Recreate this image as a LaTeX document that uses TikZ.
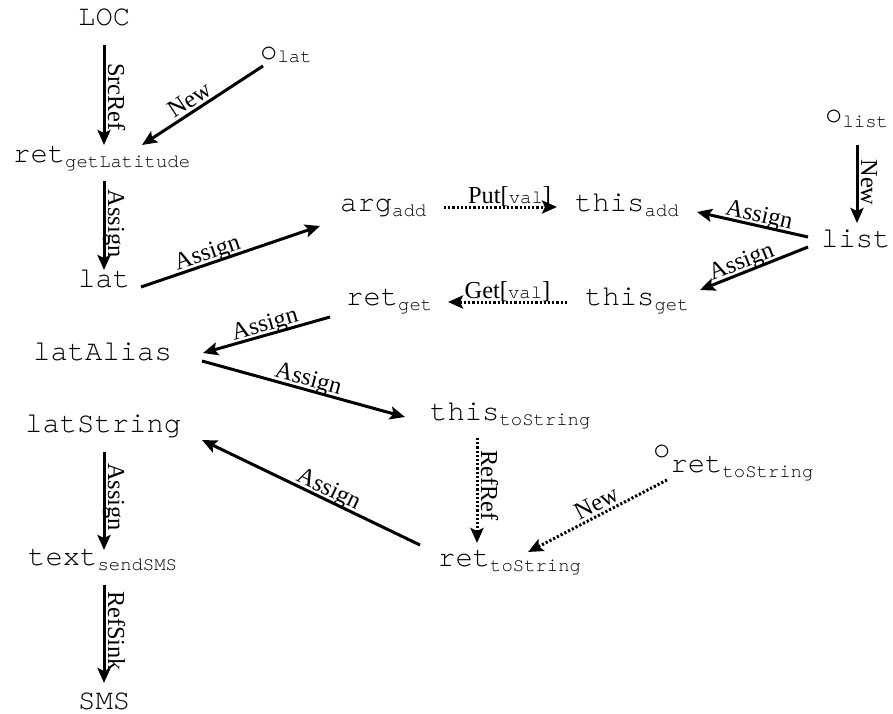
\documentclass[tikz,border=0pt]{standalone}
\usepackage{fontspec}
\setmainfont{Liberation Serif}
\setmonofont{TeX Gyre Cursor}
\usetikzlibrary{arrows.meta}

% identifier with a lowered, smaller suffix
\newcommand\idsub[2]{#1\raisebox{-5bp}{\fontsize{19}{19}\selectfont #2}}
% monospaced field name inside an edge label
\newcommand\field[1]{{\fontsize{19}{19}\ttfamily #1}}

\tikzset{
  var/.style={anchor=base west, inner sep=0pt, font=\fontsize{29}{29}\ttfamily},
  flow/.style={line width=3bp, -{Stealth[length=15bp,width=13bp,inset=3bp]}},
  flowdot/.style={flow, dash pattern=on 2.2bp off 2bp},
  lbl/.style={sloped, anchor=base, inner sep=0pt, yshift=4bp,
              font=\fontsize{24.5}{24.5}\selectfont},
  lblon/.style={lbl, yshift=0bp},
}

\begin{document}
\begin{tikzpicture}[x=1bp, y=-1bp]
  \useasboundingbox (0,0) rectangle (893,714);

  % variables and objects
  \node[var] (loc)      at (78,26)   {LOC};
  \node[var] (olat)     at (260,60)  {o\raisebox{-3bp}{\fontsize{19}{19}\selectfont lat}};
  \node[var] (retgl)    at (13,163)  {\idsub{ret}{getLatitude}};
  \node[var] (lat)      at (78,287)  {lat};
  \node[var] (arg)      at (340,211) {\idsub{arg}{add}};
  \node[var] (thisadd)  at (575,211) {\idsub{this}{add}};
  \node[var] (olist)    at (825,123) {o\raisebox{-5bp}{\fontsize{19}{19}\selectfont list}};
  \node[var] (list)     at (821,247) {list};
  \node[var] (retget)   at (346,305) {\idsub{ret}{get}};
  \node[var] (thisget)  at (585,305) {\idsub{this}{get}};
  \node[var] (latalias) at (33,360)  {latAlias};
  \node[var] (thists)   at (430,420) {\idsub{this}{toString}};
  \node[var] (latstr)   at (25,432)  {latString};
  \node[var] (oret)     at (653,457) {o\raisebox{-15bp}{\idsub{ret}{toString}}};
  \node[var] (text)     at (28,565)  {\idsub{text}{sendSMS}};
  \node[var] (retts)    at (438,566) {\idsub{ret}{toString}};
  \node[var] (sms)      at (78,709)  {SMS};

  % flow edges
  \draw[flow] ([shift={(26,19)}]loc.base west) -- ([shift={(91,-18)}]retgl.base west)
    node[lbl, pos=.52] {SrcRef};
  \draw[flow] ([shift={(3,6)}]olat.base west) -- ([shift={(129,-18)}]retgl.base west)
    node[lbl, pos=.55] {New};
  \draw[flow] ([shift={(91,18)}]retgl.base west) -- ([shift={(26,-17)}]lat.base west)
    node[lbl, pos=.48] {Assign};
  \draw[flow] ([shift={(63,0)}]lat.base west) -- ([shift={(-20,15)}]arg.base west)
    node[lbl, pos=.39] {Assign};
  \draw[flowdot] ([shift={(104,-4)}]arg.base west) -- ([shift={(-18,-4)}]thisadd.base west)
    node[lblon, pos=.58] {Put[\field{val}]};
  \draw[flow] ([shift={(-13,-10)}]list.base west) -- ([shift={(122,1)}]thisadd.base west)
    node[lbl, pos=.46] {Assign};
  \draw[flow] ([shift={(-13,0)}]list.base west) -- ([shift={(115,-15)}]thisget.base west)
    node[lbl, pos=.58] {Assign};
  \draw[flowdot] ([shift={(-18,-3)}]thisget.base west) -- ([shift={(102,-3)}]retget.base west)
    node[lblon, pos=.5] {Get[\field{val}]};
  \draw[flow] ([shift={(-16,12)}]retget.base west) -- ([shift={(170,-7)}]latalias.base west)
    node[lbl, pos=.49] {Assign};
  \draw[flow] ([shift={(169,1)}]latalias.base west) -- ([shift={(-25,-3)}]thists.base west)
    node[lbl, pos=.51] {Assign};
  \draw[flow] ([shift={(-18,-21)}]retts.base west) -- ([shift={(177,8)}]latstr.base west)
    node[lbl, pos=.44] {Assign};
  \draw[flowdot] ([shift={(47,18)}]thists.base west) -- ([shift={(39,-23)}]retts.base west)
    node[lbl, pos=.45] {RefRef};
  \draw[flowdot] ([shift={(14,23)}]oret.base west) -- ([shift={(90,-14)}]retts.base west)
    node[lbl, pos=.47] {New};
  \draw[flow] ([shift={(79,20)}]latstr.base west) -- ([shift={(76,-15)}]text.base west)
    node[lbl, pos=.46] {Assign};
  \draw[flow] ([shift={(76,20)}]text.base west) -- ([shift={(26,-26)}]sms.base west)
    node[lbl, pos=.47] {RefSink};
  \draw[flow] ([shift={(32,22)}]olist.base west) -- ([shift={(36,-24)}]list.base west)
    node[lbl, pos=.48] {New};
\end{tikzpicture}
\end{document}
